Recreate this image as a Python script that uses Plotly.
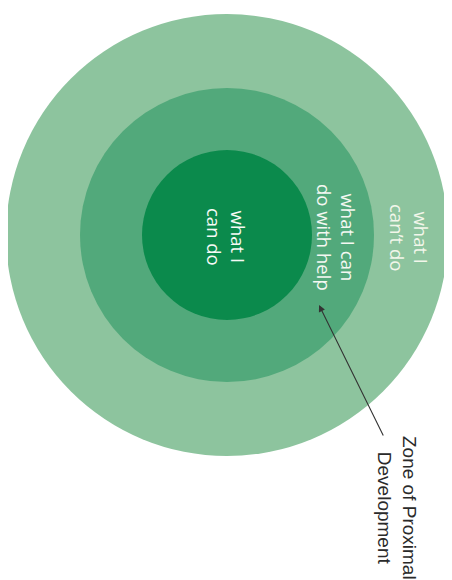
import plotly.graph_objects as go

# Data
zones = ["what I can't do", "what I can do with help", "what I can do"]
radii = [221, 147, 85]
zone_colors = ["#8dc49e", "#52a97b", "#0b8a4c"]
zone_labels = ["what I<br>can\u2019t do", "what I can<br>do with help", "what I<br>can do"]
label_x = [410, 337, 227]
label_y = [237, 237, 237]
label_colors = ["#f2f6ea", "#f4f8f2", "#f6faf6"]
center = (227, 235)

callout_text = "Zone of Proximal<br>Development"
callout_pos = (397, 508)
arrow_tail = (384, 437)
arrow_tip = (319, 305)

W, H = 452, 580
OFF = 8  # page body margin

fig = go.Figure()
fig.add_trace(go.Scatter(x=[OFF, W], y=[OFF, H], mode="markers",
                         marker=dict(opacity=0), hoverinfo="skip", showlegend=False))

shapes = []
for r, c in zip(radii, zone_colors):
    shapes.append(dict(type="circle", xref="x", yref="y",
                       x0=center[0] - r, x1=center[0] + r,
                       y0=center[1] - r, y1=center[1] + r,
                       fillcolor=c, line=dict(width=0), layer="below"))

annotations = []
for t, x, y, col in zip(zone_labels, label_x, label_y, label_colors):
    annotations.append(dict(x=x, y=y, xref="x", yref="y", text=t, showarrow=False,
                            textangle=90, xanchor="center", yanchor="middle", align="center",
                            font=dict(family="Open Sans", size=18.5, color=col)))

annotations.append(dict(x=callout_pos[0], y=callout_pos[1], xref="x", yref="y",
                        text=callout_text, showarrow=False, textangle=90,
                        xanchor="center", yanchor="middle", align="center",
                        font=dict(family="Liberation Sans", size=19, color="#2a2a2a")))

annotations.append(dict(x=arrow_tip[0], y=arrow_tip[1], xref="x", yref="y",
                        ax=arrow_tail[0], ay=arrow_tail[1], axref="x", ayref="y",
                        text="", showarrow=True, arrowhead=2, arrowsize=1.2,
                        arrowwidth=1.1, arrowcolor="#333333"))

fig.update_layout(
    width=W - OFF, height=H - OFF,
    margin=dict(l=0, r=0, t=0, b=0),
    paper_bgcolor="white", plot_bgcolor="white",
    xaxis=dict(range=[OFF, W], visible=False, fixedrange=True),
    yaxis=dict(range=[H, OFF], visible=False, fixedrange=True),
    shapes=shapes, annotations=annotations, showlegend=False,
)
fig.write_html("out.html")
